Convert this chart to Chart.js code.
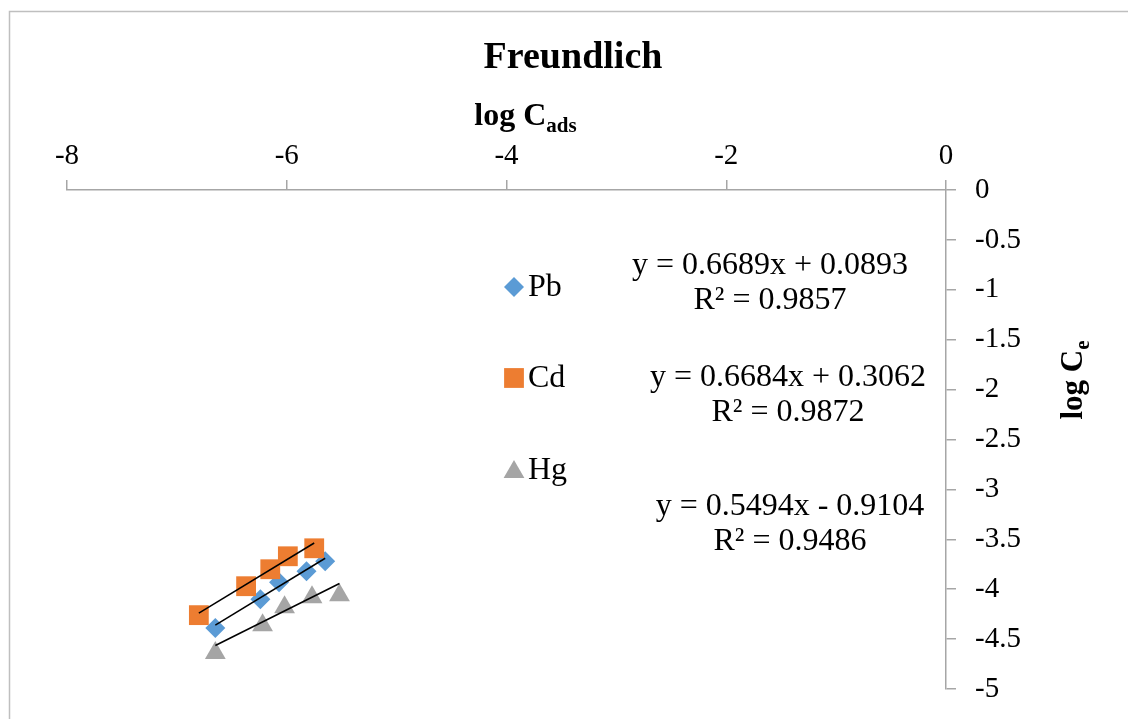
<!DOCTYPE html>
<html>
<head>
<meta charset="utf-8">
<script src="https://cdn.jsdelivr.net/npm/chart.js@4/dist/chart.umd.min.js"></script>
<style>
  html, body { margin: 0; padding: 0; background: #fff; }
  #wrap { width: 1128px; height: 719px; position: relative; }
</style>
</head>
<body>
<div id="wrap"><canvas id="c" width="1128" height="719"></canvas></div>
<script>
// ---- data ----
const seriesNames = ['Pb', 'Cd', 'Hg'];
const pbX = [-6.65, -6.24, -6.07, -5.82, -5.65];
const pbY = [-4.39, -4.10, -3.93, -3.82, -3.72];
const cdX = [-6.80, -6.37, -6.15, -5.99, -5.75];
const cdY = [-4.26, -3.97, -3.80, -3.67, -3.59];
const hgX = [-6.65, -6.22, -6.02, -5.77, -5.52];
const hgY = [-4.64, -4.36, -4.18, -4.08, -4.06];
// linear trendline coefficients shown on the chart [slope, intercept]
const pbFit = [0.6689, 0.0893];
const cdFit = [0.6684, 0.3062];
const hgFit = [0.5494, -0.9104];
const pbR2 = '0.9857';
const cdR2 = '0.9872';
const hgR2 = '0.9486';
const xTicks = [-8, -6, -4, -2, 0];
const yTicks = [0, -0.5, -1, -1.5, -2, -2.5, -3, -3.5, -4, -4.5, -5];

const colors = { Pb: '#5B9BD5', Cd: '#ED7D31', Hg: '#A5A5A5' };
const FONT = '"Liberation Serif", "Times New Roman", serif';

function pts(xs, ys) { return xs.map((x, i) => ({ x: x, y: ys[i] })); }
function trend(xs, fit) {
  const a = Math.min(...xs), b = Math.max(...xs);
  return [{ x: a, y: fit[0] * a + fit[1] }, { x: b, y: fit[0] * b + fit[1] }];
}
function eqText(fit) {
  const s = fit[1] < 0 ? ' - ' : ' + ';
  return 'y = ' + fit[0].toFixed(4) + 'x' + s + Math.abs(fit[1]).toFixed(4);
}

const trendStyle = { type: 'line', borderColor: '#000', borderWidth: 1.5, pointRadius: 0, fill: false, showLine: true };

const datasets = [
  Object.assign({ label: 'Pb trend', data: trend(pbX, pbFit) }, trendStyle),
  Object.assign({ label: 'Cd trend', data: trend(cdX, cdFit) }, trendStyle),
  Object.assign({ label: 'Hg trend', data: trend(hgX, hgFit) }, trendStyle),
  { label: 'Hg', data: pts(hgX, hgY), pointStyle: 'triangle', pointRadius: 12, backgroundColor: colors.Hg, borderColor: colors.Hg, borderWidth: 0, showLine: false },
  { label: 'Cd', data: pts(cdX, cdY), pointStyle: 'rect', pointRadius: 14, backgroundColor: colors.Cd, borderColor: colors.Cd, borderWidth: 0, showLine: false },
  { label: 'Pb', data: pts(pbX, pbY), pointStyle: 'rectRot', pointRadius: 10, backgroundColor: colors.Pb, borderColor: colors.Pb, borderWidth: 0, showLine: false }
];

const decor = {
  id: 'decor',
  beforeDraw(chart) {
    const ctx = chart.ctx;
    ctx.save();
    ctx.fillStyle = '#fff';
    ctx.fillRect(0, 0, chart.width, chart.height);
    ctx.strokeStyle = '#BFBFBF';
    ctx.lineWidth = 1.5;
    ctx.beginPath();
    ctx.moveTo(9.5, 719);
    ctx.lineTo(9.5, 11.5);
    ctx.lineTo(1128, 11.5);
    ctx.stroke();
    ctx.restore();
  },
  afterDraw(chart) {
    const ctx = chart.ctx;
    ctx.save();
    ctx.fillStyle = '#000';
    // title
    ctx.font = 'bold 38px ' + FONT;
    ctx.textAlign = 'center';
    ctx.textBaseline = 'alphabetic';
    ctx.fillText('Freundlich', 573, 68);

    // x axis title: log C_ads
    ctx.textAlign = 'left';
    ctx.font = 'bold 32px ' + FONT;
    const m1 = ctx.measureText('log C').width;
    ctx.font = 'bold 21px ' + FONT;
    const m2 = ctx.measureText('ads').width;
    let sx = 525.5 - (m1 + m2) / 2;
    ctx.font = 'bold 32px ' + FONT;
    ctx.fillText('log C', sx, 125);
    ctx.font = 'bold 21px ' + FONT;
    ctx.fillText('ads', sx + m1, 132);

    // y axis title: log C_e (rotated)
    ctx.save();
    ctx.translate(1082, 380);
    ctx.rotate(-Math.PI / 2);
    ctx.font = 'bold 31px ' + FONT;
    const n1 = ctx.measureText('log C').width;
    ctx.font = 'bold 21px ' + FONT;
    const n2 = ctx.measureText('e').width;
    const sy = -(n1 + n2) / 2;
    ctx.font = 'bold 31px ' + FONT;
    ctx.fillText('log C', sy, 0);
    ctx.font = 'bold 21px ' + FONT;
    ctx.fillText('e', sy + n1, 7);
    ctx.restore();

    // legend
    const leg = [
      { name: seriesNames[0], style: 'rectRot', r: 10, y: 287 },
      { name: seriesNames[1], style: 'rect', r: 14, y: 378 },
      { name: seriesNames[2], style: 'triangle', r: 12, y: 470 }
    ];
    leg.forEach(it => {
      ctx.fillStyle = colors[it.name];
      ctx.strokeStyle = colors[it.name];
      ctx.lineWidth = 0;
      Chart.helpers.drawPoint(ctx, { pointStyle: it.style, radius: it.r, rotation: 0, borderWidth: 0 }, 514, it.style === 'triangle' ? it.y + 2 : it.y);
      ctx.fillStyle = '#000';
      ctx.font = '32px ' + FONT;
      ctx.textAlign = 'left';
      ctx.textBaseline = 'middle';
      ctx.fillText(it.name, 528, it.y + 1);
    });

    // equations
    ctx.font = '32px ' + FONT;
    ctx.textAlign = 'center';
    ctx.textBaseline = 'middle';
    ctx.fillStyle = '#000';
    const eqs = [
      { fit: pbFit, r2: pbR2, x: 770, y: 266 },
      { fit: cdFit, r2: cdR2, x: 788, y: 378 },
      { fit: hgFit, r2: hgR2, x: 790, y: 507 }
    ];
    eqs.forEach(e => {
      ctx.fillText(eqText(e.fit), e.x, e.y);
      ctx.fillText('R² = ' + e.r2, e.x, e.y + 35);
    });
    ctx.restore();
  }
};

new Chart(document.getElementById('c'), {
  type: 'scatter',
  data: { datasets: datasets },
  options: {
    responsive: false,
    animation: false,
    devicePixelRatio: 1,
    layout: { padding: { left: 67, right: 0, top: 0, bottom: 30 } },
    plugins: { legend: { display: false }, title: { display: false }, tooltip: { enabled: false } },
    scales: {
      x: {
        type: 'linear', position: 'top', min: -8, max: 0,
        afterBuildTicks: s => { s.ticks = xTicks.map(v => ({ value: v })); },
        afterFit: s => { s.height = 190; s.paddingLeft = 0; s.paddingRight = 0; },
        ticks: { color: '#000', font: { family: FONT, size: 29 }, padding: 6, maxRotation: 0, callback: v => String(v) },
        grid: { drawOnChartArea: false, drawTicks: true, tickLength: 10, color: '#A6A6A6', lineWidth: 1.5 },
        border: { display: true, color: '#A6A6A6', width: 1.5 }
      },
      y: {
        type: 'linear', position: 'right', min: -5, max: 0,
        afterBuildTicks: s => { s.ticks = yTicks.map(v => ({ value: v })); },
        afterFit: s => { s.width = 1128 - 946; s.paddingTop = 0; s.paddingBottom = 0; },
        ticks: { color: '#000', font: { family: FONT, size: 29 }, padding: 19, callback: v => String(v) },
        grid: { drawOnChartArea: false, drawTicks: true, tickLength: 10, color: '#A6A6A6', lineWidth: 1.5 },
        border: { display: true, color: '#A6A6A6', width: 1.5 }
      }
    }
  },
  plugins: [decor]
});
</script>
</body>
</html>
